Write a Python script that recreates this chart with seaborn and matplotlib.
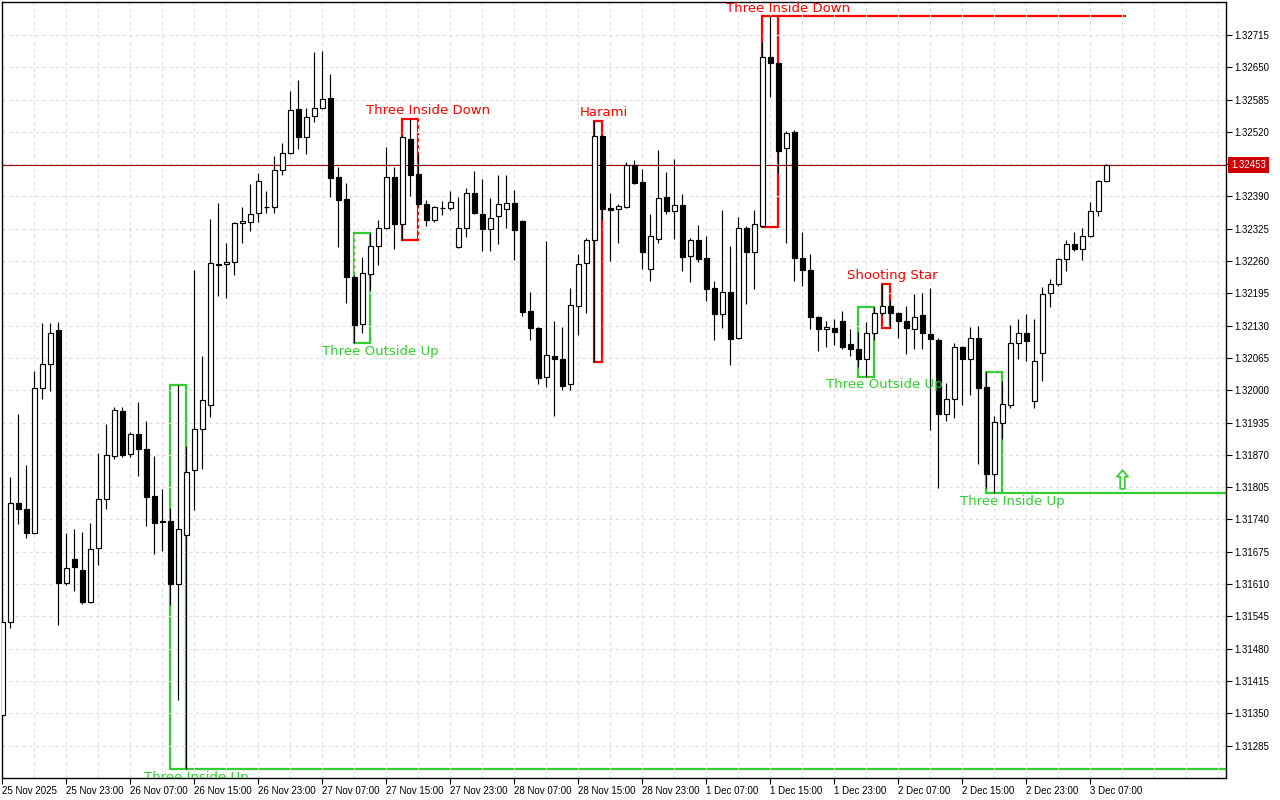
import numpy as np
import pandas as pd
import matplotlib
matplotlib.use("Agg")
import matplotlib.pyplot as plt
import seaborn as sns
from matplotlib.path import Path
from matplotlib.patches import Rectangle
from matplotlib.transforms import blended_transform_factory

# ---------------- data (hourly candles, 25 Nov 15:00 .. 3 Dec 09:00) ----------------
opens = [1.31347, 1.31534, 1.31773, 1.31761, 1.31713, 1.32005, 1.32053, 1.32121, 1.31612, 1.31660,
         1.31638, 1.31574, 1.31683, 1.31781, 1.31868, 1.31958, 1.31872, 1.31912, 1.31882, 1.31787,
         1.31736, 1.31737, 1.31610, 1.31709, 1.31840, 1.31922, 1.31970, 1.32254, 1.32254, 1.32258,
         1.32337, 1.32339, 1.32357, 1.32369, 1.32369, 1.32443, 1.32477, 1.32566, 1.32510, 1.32552,
         1.32568, 1.32588, 1.32429, 1.32385, 1.32228, 1.32133, 1.32234, 1.32290, 1.32327, 1.32429,
         1.32335, 1.32506, 1.32435, 1.32375, 1.32343, 1.32367, 1.32367, 1.32288, 1.32327, 1.32397,
         1.32355, 1.32325, 1.32351, 1.32365, 1.32377, 1.32341, 1.32160, 1.32125, 1.32027, 1.32069,
         1.32063, 1.32013, 1.32170, 1.32256, 1.32302, 1.32512, 1.32367, 1.32365, 1.32369, 1.32453,
         1.32419, 1.32244, 1.32304, 1.32389, 1.32361, 1.32373, 1.32270, 1.32302, 1.32266, 1.32206,
         1.32153, 1.32198, 1.32105, 1.32327, 1.32278, 1.32331, 1.32671, 1.32659, 1.32488, 1.32520,
         1.32266, 1.32242, 1.32147, 1.32123, 1.32125, 1.32139, 1.32093, 1.32083, 1.32063, 1.32115,
         1.32155, 1.32170, 1.32155, 1.32139, 1.32123, 1.32151, 1.32113, 1.32101, 1.31952, 1.31982,
         1.32087, 1.32063, 1.32105, 1.32007, 1.31832, 1.31934, 1.31970, 1.32095, 1.32115, 1.31978,
         1.32075, 1.32196, 1.32214, 1.32264, 1.32294, 1.32284, 1.32310, 1.32361, 1.32421]
highs = [1.31538, 1.31825, 1.31952, 1.31850, 1.32039, 1.32135, 1.32135, 1.32137, 1.31713, 1.31721,
         1.31715, 1.31733, 1.31874, 1.31932, 1.31966, 1.31966, 1.31916, 1.31976, 1.31938, 1.31868,
         1.31801, 1.31763, 1.32011, 1.31888, 1.32242, 1.32069, 1.32345, 1.32377, 1.32296, 1.32339,
         1.32369, 1.32415, 1.32437, 1.32401, 1.32471, 1.32498, 1.32602, 1.32624, 1.32568, 1.32681,
         1.32683, 1.32636, 1.32449, 1.32417, 1.32232, 1.32268, 1.32316, 1.32343, 1.32490, 1.32449,
         1.32514, 1.32546, 1.32475, 1.32383, 1.32371, 1.32381, 1.32401, 1.32389, 1.32407, 1.32441,
         1.32425, 1.32387, 1.32433, 1.32433, 1.32403, 1.32343, 1.32198, 1.32127, 1.32300, 1.32139,
         1.32127, 1.32206, 1.32274, 1.32306, 1.32542, 1.32514, 1.32397, 1.32375, 1.32459, 1.32463,
         1.32445, 1.32355, 1.32483, 1.32439, 1.32465, 1.32395, 1.32306, 1.32333, 1.32310, 1.32220,
         1.32363, 1.32290, 1.32349, 1.32331, 1.32363, 1.32701, 1.32753, 1.32661, 1.32522, 1.32524,
         1.32318, 1.32274, 1.32149, 1.32139, 1.32143, 1.32160, 1.32123, 1.32117, 1.32137, 1.32168,
         1.32214, 1.32182, 1.32157, 1.32170, 1.32194, 1.32196, 1.32206, 1.32105, 1.32015, 1.32095,
         1.32089, 1.32127, 1.32129, 1.32037, 1.31948, 1.32019, 1.32131, 1.32143, 1.32153, 1.32143,
         1.32208, 1.32224, 1.32266, 1.32302, 1.32318, 1.32327, 1.32379, 1.32423, 1.32455]
lows = [1.31343, 1.31522, 1.31731, 1.31703, 1.31711, 1.31982, 1.31999, 1.31528, 1.31608, 1.31596,
        1.31570, 1.31572, 1.31648, 1.31761, 1.31862, 1.31866, 1.31866, 1.31828, 1.31727, 1.31670,
        1.31677, 1.31568, 1.31377, 1.31238, 1.31759, 1.31842, 1.31946, 1.32190, 1.32186, 1.32232,
        1.32296, 1.32321, 1.32339, 1.32357, 1.32357, 1.32433, 1.32475, 1.32486, 1.32475, 1.32540,
        1.32566, 1.32389, 1.32288, 1.32176, 1.32095, 1.32115, 1.32202, 1.32252, 1.32325, 1.32284,
        1.32302, 1.32391, 1.32371, 1.32331, 1.32339, 1.32353, 1.32363, 1.32286, 1.32308, 1.32355,
        1.32280, 1.32280, 1.32294, 1.32327, 1.32262, 1.32149, 1.32101, 1.32013, 1.32007, 1.31948,
        1.32001, 1.32001, 1.32111, 1.32155, 1.32057, 1.32343, 1.32260, 1.32296, 1.32367, 1.32415,
        1.32244, 1.32220, 1.32296, 1.32355, 1.32304, 1.32240, 1.32218, 1.32258, 1.32180, 1.32101,
        1.32125, 1.32051, 1.32103, 1.32174, 1.32204, 1.32329, 1.32590, 1.32437, 1.32296, 1.32220,
        1.32210, 1.32123, 1.32079, 1.32087, 1.32091, 1.32083, 1.32069, 1.32047, 1.32027, 1.32101,
        1.32151, 1.32125, 1.32105, 1.32073, 1.32083, 1.32083, 1.31920, 1.31803, 1.31938, 1.31944,
        1.31970, 1.31990, 1.31852, 1.31803, 1.31793, 1.31902, 1.31964, 1.32063, 1.32059, 1.31964,
        1.32019, 1.32168, 1.32210, 1.32240, 1.32280, 1.32262, 1.32308, 1.32351, 1.32419]
closes = [1.31534, 1.31773, 1.31761, 1.31713, 1.32005, 1.32053, 1.32115, 1.31612, 1.31642, 1.31644,
          1.31574, 1.31681, 1.31781, 1.31870, 1.31960, 1.31870, 1.31912, 1.31882, 1.31785, 1.31733,
          1.31734, 1.31610, 1.31721, 1.31836, 1.31922, 1.31980, 1.32256, 1.32253, 1.32258, 1.32337,
          1.32341, 1.32355, 1.32421, 1.32368, 1.32443, 1.32477, 1.32564, 1.32510, 1.32550, 1.32568,
          1.32586, 1.32427, 1.32383, 1.32228, 1.32131, 1.32236, 1.32290, 1.32327, 1.32429, 1.32335,
          1.32510, 1.32433, 1.32375, 1.32343, 1.32369, 1.32366, 1.32379, 1.32327, 1.32397, 1.32357,
          1.32325, 1.32347, 1.32375, 1.32377, 1.32323, 1.32157, 1.32125, 1.32025, 1.32071, 1.32063,
          1.32009, 1.32172, 1.32254, 1.32302, 1.32512, 1.32365, 1.32363, 1.32371, 1.32453, 1.32417,
          1.32278, 1.32310, 1.32387, 1.32361, 1.32373, 1.32268, 1.32302, 1.32264, 1.32204, 1.32153,
          1.32198, 1.32103, 1.32327, 1.32278, 1.32335, 1.32671, 1.32659, 1.32481, 1.32518, 1.32266,
          1.32242, 1.32147, 1.32123, 1.32127, 1.32117, 1.32087, 1.32083, 1.32063, 1.32115, 1.32155,
          1.32170, 1.32155, 1.32139, 1.32125, 1.32147, 1.32115, 1.32103, 1.31952, 1.31982, 1.32087,
          1.32063, 1.32105, 1.32005, 1.31832, 1.31936, 1.31972, 1.32095, 1.32115, 1.32099, 1.32059,
          1.32194, 1.32214, 1.32264, 1.32294, 1.32284, 1.32310, 1.32361, 1.32421, 1.32453]

xtick_pos = [0, 8, 16, 24, 32, 40, 48, 56, 64, 72, 80, 88, 96, 104, 112, 120, 128, 136]
xtick_labels = ["25 Nov 2025", "25 Nov 23:00", "26 Nov 07:00", "26 Nov 15:00", "26 Nov 23:00",
                "27 Nov 07:00", "27 Nov 15:00", "27 Nov 23:00", "28 Nov 07:00", "28 Nov 15:00",
                "28 Nov 23:00", "1 Dec 07:00", "1 Dec 15:00", "1 Dec 23:00", "2 Dec 07:00",
                "2 Dec 15:00", "2 Dec 23:00", "3 Dec 07:00"]
price_ticks = [1.31285, 1.31350, 1.31415, 1.31480, 1.31545, 1.31610, 1.31675, 1.31740, 1.31805,
               1.31870, 1.31935, 1.32000, 1.32065, 1.32130, 1.32195, 1.32260, 1.32325, 1.32390,
               1.32455, 1.32520, 1.32585, 1.32650, 1.32715]

pattern_names = ["Three Inside Down", "Harami", "Three Inside Down", "Shooting Star",
                 "Three Outside Up", "Three Outside Up", "Three Inside Up", "Three Inside Up"]
pattern_start = [50, 74, 95, 110, 44, 107, 21, 123]
pattern_end = [52, 75, 97, 111, 46, 109, 23, 125]
pattern_bullish = [False, False, False, False, True, True, True, True]
pattern_extend = [None, None, 140.5, None, None, None, "edge", "edge"]

signal_x = [140]
signal_price = [1.31821]

# ---------------- style ----------------
sns.set_theme(style="white")
plt.rcParams['font.family'] = ['DejaVu Sans']

RED = "#ff0000"
GREEN = "#32cd32"
GRID = "#dedede"

fig = plt.figure(figsize=(12.8, 8), dpi=100)
ax = fig.add_axes([2 / 1280, 22 / 800, 1224 / 1280, 776 / 800])
XMIN, XMAX = -0.04, 152.96
YMIN, YMAX = 1.312198, 1.327814
ax.set_xlim(XMIN, XMAX)
ax.set_ylim(YMIN, YMAX)
ax.set_facecolor("white")

df = pd.DataFrame({"x": np.arange(len(opens)), "open": opens, "high": highs,
                   "low": lows, "close": closes})
df["up"] = df["close"] >= df["open"]
df["bottom"] = df[["open", "close"]].min(axis=1)
df["height"] = (df["close"] - df["open"]).abs().clip(lower=0.000018)

# grid (drawn above the pattern boxes, like the terminal's background objects)
for p in price_ticks:
    ax.axhline(p, color=GRID, lw=0.8, ls=(0, (3, 3)), zorder=1)
for gx in range(0, 153, 4):
    ax.axvline(gx, color=GRID, lw=0.8, ls=(0, (3, 3)), zorder=1)

# pattern boxes and labels
for name, s, e, bull, ext in zip(pattern_names, pattern_start, pattern_end,
                                 pattern_bullish, pattern_extend):
    col = GREEN if bull else RED
    hi = max(highs[s:e + 1])
    lo = min(lows[s:e + 1])
    ax.add_patch(Rectangle((s, lo), e - s, hi - lo, fill=False, edgecolor=col,
                           lw=1.6, zorder=0.8))
    if ext is not None:
        xend = XMAX if ext == "edge" else ext
        yl = lo if bull else hi
        ax.plot([e, xend], [yl, yl], color=col, lw=1.6, zorder=0.8, solid_capstyle="butt")
    off = 2.2 if (e - s) == 2 else 0.7
    cx = (s + e) / 2 + off
    if bull:
        ax.annotate(name, xy=(cx, lo), xytext=(0, -5.8), textcoords="offset points",
                    ha="center", va="center", color=col, fontsize=9.5,
                    annotation_clip=False, clip_on=True, zorder=5)
    else:
        ax.annotate(name, xy=(cx, hi), xytext=(0, 5.8), textcoords="offset points",
                    ha="center", va="center", color=col, fontsize=9.5,
                    annotation_clip=False, clip_on=True, zorder=5)

# current price line
cur = closes[-1]
ax.axhline(cur, color="#a40000", lw=0.8, zorder=1.5)

# candles
ax.vlines(df["x"], df["low"], df["high"], color="black", lw=0.85, zorder=2)
ax.bar(df["x"], df["height"], bottom=df["bottom"], width=0.56,
       color=np.where(df["up"], "white", "black"), edgecolor="black",
       linewidth=0.85, zorder=3)

# signal arrow (hollow up arrow)
arrow = Path([(0, 1), (-0.6, 0.3), (-0.25, 0.3), (-0.25, -1), (0.25, -1),
              (0.25, 0.3), (0.6, 0.3), (0, 1)],
             [Path.MOVETO] + [Path.LINETO] * 6 + [Path.CLOSEPOLY])
ax.scatter(signal_x, signal_price, marker=arrow, s=180, facecolor="white",
           edgecolor=GREEN, linewidths=1.2, zorder=4)

# axes
for sp in ax.spines.values():
    sp.set_visible(True)
    sp.set_color("black")
    sp.set_linewidth(1.0)

ax.yaxis.tick_right()
ax.set_yticks(price_ticks)
# the tick label hidden behind the current-price tag is left empty, as in the terminal
ax.set_yticklabels(["" if abs(v - cur) < 0.0002 else f"{v:.5f}" for v in price_ticks])
ax.set_xticks(xtick_pos)
ax.set_xticklabels(xtick_labels)
for lab in ax.get_xticklabels():
    lab.set_horizontalalignment("left")
ax.tick_params(axis="y", which="both", right=True, left=False, direction="out",
               length=4, width=0.8, colors="black", labelsize=7, pad=2)
ax.tick_params(axis="x", which="both", bottom=True, direction="out",
               length=4, width=0.8, colors="black", labelsize=7, pad=2)
for lab in ax.get_xticklabels() + ax.get_yticklabels():
    lab.set_fontfamily(["Liberation Sans", "DejaVu Sans"])
ax.grid(False)

# current price tag
trans = blended_transform_factory(ax.transAxes, ax.transData)
ax.text(1.0 + 5 / 1224, cur, f"{cur:.5f}", transform=trans, ha="left", va="center",
        color="white", fontsize=7, family=["Liberation Sans", "DejaVu Sans"],
        bbox=dict(boxstyle="square,pad=0.3", fc="#cc0000", ec="none"), zorder=6,
        clip_on=False)

fig.savefig("out.png", dpi=100, facecolor="white")
